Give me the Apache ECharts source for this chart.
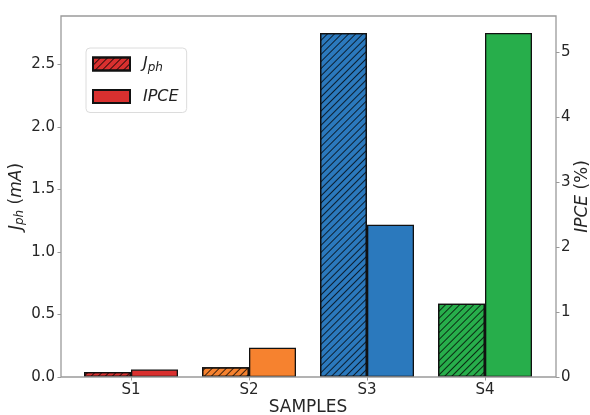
<!DOCTYPE html>
<html>
<head>
<meta charset="utf-8">
<script src="https://cdn.jsdelivr.net/npm/echarts@6/dist/echarts.min.js"></script>
<style>html,body{margin:0;padding:0;background:#fff}#c{width:590px;height:415px}</style>
</head>
<body>
<div id="c"></div>
<script>
const categories = ['S1', 'S2', 'S3', 'S4'];
const jphValues = [0.04, 0.078, 2.75, 0.585];
const ipceValues = [0.115, 0.45, 2.34, 5.29];
const barColors = ['#d9302f', '#f6822f', '#2b79bd', '#27ae4b'];
const leftTicks = { min: 0, max: 2.886, interval: 0.5 };
const rightTicks = { min: 0, max: 5.551, interval: 1 };

const FONT = 'DejaVu Sans';
const hatch = {
  symbol: 'rect', symbolSize: 1, dashArrayX: [1, 0], dashArrayY: [1, 3.4],
  rotation: -Math.PI / 4, color: 'rgba(0,0,0,0.75)'
};
const edge = { borderColor: '#111', borderWidth: 1.3 };

const chart = echarts.init(document.getElementById('c'), null, { renderer: 'canvas' });
chart.setOption({
  animation: false,
  backgroundColor: '#fff',
  grid: [
    { left: 72, right: 46, top: 16, bottom: 38, outerBoundsMode: 'none', containLabel: false },
    { left: 61, right: 34, top: 16, bottom: 38, outerBoundsMode: 'none', containLabel: false,
      show: true, borderColor: '#9a9a9a', borderWidth: 1.3, backgroundColor: 'transparent', z: 10 }
  ],
  legend: {
    left: 86, top: 48, orient: 'vertical', padding: [8, 8, 8, 6],
    itemWidth: 37, itemHeight: 13, itemGap: 15, icon: 'rect',
    backgroundColor: 'rgba(255,255,255,0.9)', borderColor: '#dcdcdc', borderWidth: 1, borderRadius: 4,
    data: ['Jph', 'IPCE'],
    formatter: n => n === 'Jph' ? '{sp|}{i|J}{s|ph}' : '{sp|}{i|IPCE}',
    textStyle: {
      fontFamily: FONT, color: '#222',
      rich: {
        sp: { width: 8 },
        i: { fontFamily: FONT, fontStyle: 'italic', fontSize: 16, color: '#222' },
        s: { fontFamily: FONT, fontStyle: 'italic', fontSize: 12, color: '#222', padding: [7, 0, 0, 0] }
      }
    }
  },
  xAxis: [
    {
      type: 'category', gridIndex: 0, data: categories,
      axisLine: { show: false },
      axisTick: { show: true, alignWithLabel: true, length: 3.5, lineStyle: { color: '#9a9a9a' } },
      axisLabel: { fontFamily: FONT, fontSize: 15, color: '#262626', margin: 6 },
      name: 'SAMPLES', nameLocation: 'middle', nameGap: 22, nameMoveOverlap: false,
      nameTextStyle: { fontFamily: FONT, fontSize: 17, color: '#262626' }
    },
    { type: 'value', gridIndex: 1, show: false }
  ],
  yAxis: [
    {
      type: 'value', gridIndex: 0, position: 'left', offset: 11,
      min: leftTicks.min, max: leftTicks.max, interval: leftTicks.interval,
      axisLine: { show: false },
      axisTick: { show: true, length: 3.5, lineStyle: { color: '#9a9a9a' } },
      splitLine: { show: false },
      axisLabel: { fontFamily: FONT, fontSize: 15, color: '#262626', margin: 6, showMaxLabel: false,
        formatter: v => v.toFixed(1) },
      name: '{i|J}{s|ph} ({i|mA})', nameLocation: 'middle', nameRotate: 90, nameGap: 35, nameMoveOverlap: false,
      nameTextStyle: { fontFamily: FONT, fontSize: 17, color: '#262626',
        rich: {
          i: { fontFamily: FONT, fontStyle: 'italic', fontSize: 17, color: '#262626' },
          s: { fontFamily: FONT, fontStyle: 'italic', fontSize: 12, color: '#262626', padding: [7, 0, 0, 0] }
        } }
    },
    {
      type: 'value', gridIndex: 0, position: 'right', offset: 12,
      min: rightTicks.min, max: rightTicks.max, interval: rightTicks.interval,
      axisLine: { show: false },
      axisTick: { show: true, length: 3.5, lineStyle: { color: '#9a9a9a' } },
      splitLine: { show: false },
      axisLabel: { fontFamily: FONT, fontSize: 15, color: '#262626', margin: 5, showMaxLabel: false },
      name: '{i|IPCE} (%)', nameLocation: 'middle', nameRotate: 90, nameGap: 18, nameMoveOverlap: false,
      nameTextStyle: { fontFamily: FONT, fontSize: 17, color: '#262626',
        rich: { i: { fontFamily: FONT, fontStyle: 'italic', fontSize: 17, color: '#262626' } } }
    },
    { type: 'value', gridIndex: 1, show: false }
  ],
  series: [
    {
      name: 'Jph', type: 'bar', xAxisIndex: 0, yAxisIndex: 0, barWidth: 47, barGap: '0%',
      itemStyle: Object.assign({ color: barColors[0], decal: hatch }, edge),
      data: jphValues.map((v, i) => ({ value: v, itemStyle: { color: barColors[i], decal: hatch } }))
    },
    {
      name: 'IPCE', type: 'bar', xAxisIndex: 0, yAxisIndex: 1, barWidth: 47, barGap: '0%',
      itemStyle: Object.assign({ color: barColors[0] }, edge),
      data: ipceValues.map((v, i) => ({ value: v, itemStyle: { color: barColors[i] } }))
    }
  ]
});
</script>
</body>
</html>
